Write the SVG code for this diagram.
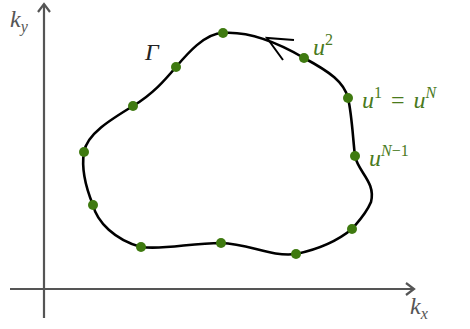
<svg xmlns="http://www.w3.org/2000/svg" width="470" height="329" viewBox="0 0 470 329">
<style>
.ax{stroke:#555;stroke-width:2.2;fill:none}
.lbl{font-family:"Liberation Serif",serif;font-style:italic;font-size:24px}
.sup{font-size:16px}
.g{fill:#4a7a1c}
.k{fill:#555}
.dot{fill:#3f7a10}
</style>
<rect width="470" height="329" fill="#fff"/>
<g id="axes">
<line class="ax" x1="44" y1="318" x2="44" y2="4"/>
<polyline class="ax" points="38,12 44,4 50,12"/>
<line class="ax" x1="10" y1="289" x2="414" y2="289"/>
<polyline class="ax" points="406,283 414,289 406,295"/>
<text class="lbl k" x="10" y="27">k<tspan class="sup" dy="5">y</tspan></text>
<text class="lbl k" x="410" y="314">k<tspan class="sup" dy="5">x</tspan></text>
</g>
<g id="connectors">
<path d="M223,33 C250,31 280,44 304,58 C330,72 344,82 348,98 C352,115 353,140 355,156 C358,172 376,182 371,202 C366,214 358,222 352,229 C335,243 315,250 296,254 C270,257 250,244 221,243 C190,243 165,250 141,247 C115,240 97,222 93,205 C86,188 81,170 84,152 C87,134 110,120 133,106 C153,94 165,80 176,67 C187,54 205,33 223,33 Z" fill="none" stroke="#000" stroke-width="2.6"/>
<polyline points="294,40 267,38 283,60" fill="none" stroke="#000" stroke-width="2"/>
</g>
<g id="gamma"><text class="lbl" x="145" y="60" fill="#222">Γ</text></g>
<g id="points">
<circle class="dot" cx="223" cy="33" r="5"/>
<circle class="dot" cx="304" cy="58" r="5"/>
<circle class="dot" cx="348" cy="98" r="5"/>
<circle class="dot" cx="355" cy="156" r="5"/>
<circle class="dot" cx="352" cy="229" r="5"/>
<circle class="dot" cx="296" cy="254" r="5"/>
<circle class="dot" cx="221" cy="243" r="5"/>
<circle class="dot" cx="141" cy="247" r="5"/>
<circle class="dot" cx="93" cy="205" r="5"/>
<circle class="dot" cx="84" cy="152" r="5"/>
<circle class="dot" cx="133" cy="106" r="5"/>
<circle class="dot" cx="176" cy="67" r="5"/>
</g>
<g id="u2"><text class="lbl g" x="313" y="55">u<tspan class="sup" font-style="normal" dy="-10">2</tspan></text></g>
<g id="u1"><text class="lbl g" x="362" y="108">u<tspan class="sup" font-style="normal" dy="-10">1</tspan><tspan dy="10" font-style="normal" dx="9">=</tspan><tspan dx="9">u</tspan><tspan class="sup" dy="-10">N</tspan></text></g>
<g id="uN1"><text class="lbl g" x="369" y="166">u<tspan class="sup" dy="-10">N<tspan font-style="normal">−1</tspan></tspan></text></g>
</svg>
